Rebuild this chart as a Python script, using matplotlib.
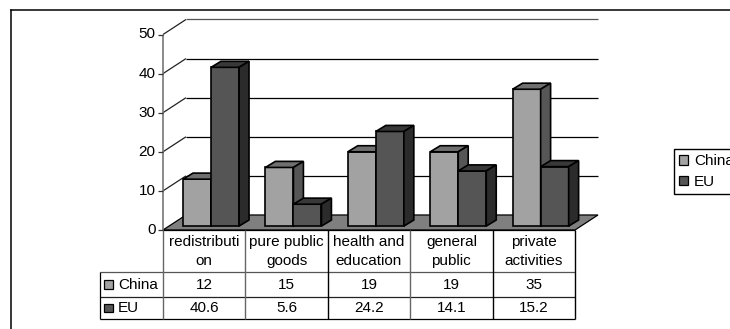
import matplotlib
matplotlib.use("Agg")
import matplotlib.pyplot as plt
from matplotlib.patches import Polygon, Patch, Rectangle
from matplotlib.lines import Line2D

categories = ["redistributi\non", "pure public\ngoods", "health and\neducation", "general\npublic", "private\nactivities"]
china = [12, 15, 19, 19, 35]
eu = [40.6, 5.6, 24.2, 14.1, 15.2]
china_labels = ["12", "15", "19", "19", "35"]
eu_labels = ["40.6", "5.6", "24.2", "14.1", "15.2"]
y_ticks = [0, 10, 20, 30, 40, 50]

W, H = 730, 329
plt.rcParams["font.family"] = ["Liberation Sans", "DejaVu Sans"]
plt.rcParams["font.size"] = 11

CHINA_COLS = ("#a2a2a2", "#6f6f6f", "#565656")
EU_COLS = ("#555555", "#383838", "#2b2b2b")

fig = plt.figure(figsize=(W / 100, H / 100), dpi=100)

# outer frame, open on the right and at the bottom
fig.add_artist(Line2D([11 / W, 11 / W], [0, 1 - 9.5 / H], color="black", lw=1.1))
fig.add_artist(Line2D([11 / W, 1], [1 - 9.5 / H, 1 - 9.5 / H], color="black", lw=1.1))

ax = fig.add_axes([163 / W, 1 - 230 / H, (575 - 163) / W, (230 - 34.5) / H])
ax.set_xlim(0, 5)
ax.set_ylim(0, 50)
ax.axis("off")

# depth of the fake 3d box and of the bars, in data units
depth_x = 0.279
depth_y = 3.84
bar_dx = 0.121
bar_dy = 1.55
bar_w = 0.34
bar_start = 0.243
bar_base = 1.0


def poly(points, face, edge="black", lw=1.2, z=3):
    ax.add_patch(Polygon(points, closed=True, facecolor=face, edgecolor=edge, lw=lw,
                         joinstyle="miter", clip_on=False, zorder=z))


def line(xs, ys, color="black", lw=0.9, z=1):
    ax.plot(xs, ys, color=color, lw=lw, clip_on=False, zorder=z, solid_capstyle="butt")


def bar3d(x, value, cols):
    top = bar_base + value
    poly([(x, bar_base), (x + bar_w, bar_base), (x + bar_w, top), (x, top)], cols[0])
    poly([(x, top), (x + bar_w, top), (x + bar_w + bar_dx, top + bar_dy), (x + bar_dx, top + bar_dy)], cols[1])
    poly([(x + bar_w, bar_base), (x + bar_w + bar_dx, bar_base + bar_dy),
          (x + bar_w + bar_dx, top + bar_dy), (x + bar_w, top)], cols[2])


# floor and back wall gridlines
poly([(0, 0), (5, 0), (5 + depth_x, depth_y), (depth_x, depth_y)], "#7f7f7f", lw=0.9, z=2)
for t in y_ticks[1:]:
    col = "#555555" if t == 50 else "black"
    line([0, depth_x], [t, t + depth_y], color="#222222")
    line([depth_x, 5 + depth_x], [t + depth_y, t + depth_y], color=col)

# value axis
line([0, 0], [0, 50], color="#777777", lw=1.2, z=4)
for t in y_ticks:
    line([-0.06, 0], [t, t], color="#333333", z=4)
    ax.text(-0.09, t, str(t), ha="right", va="center", clip_on=False)

for i in range(len(categories)):
    bar3d(i + bar_start, china[i], CHINA_COLS)
    bar3d(i + bar_start + bar_w, eu[i], EU_COLS)

# data table under the plot
row_y = [0, -10.74, -17.14, -22.76]
table_left = -0.767
line([0, 5], [row_y[0], row_y[0]], z=5)
line([table_left, 5], [row_y[1], row_y[1]], color="#555555", z=5)
line([table_left, 5], [row_y[2], row_y[2]], color="#222222", z=5)
line([table_left, 5], [row_y[3], row_y[3]], z=5)
line([table_left, table_left], [row_y[1], row_y[3]], z=5)
for i in range(6):
    col = "#666666" if i in (0, 1, 3) else "black"
    line([i, i], [0, row_y[3]], color=col, lw=1.0, z=5)

for i in range(len(categories)):
    ax.text(i + 0.5, (row_y[0] + row_y[1]) / 2 - 0.1, categories[i], ha="center", va="center",
            linespacing=1.4, clip_on=False)
    ax.text(i + 0.5, (row_y[1] + row_y[2]) / 2, china_labels[i], ha="center", va="center", clip_on=False)
    ax.text(i + 0.5, (row_y[2] + row_y[3]) / 2, eu_labels[i], ha="center", va="center", clip_on=False)

# row keys
key_w = 0.1
key_h = 2.1
for (name, face, low, high) in [("China", CHINA_COLS[0], row_y[2], row_y[1]), ("EU", EU_COLS[0], row_y[3], row_y[2])]:
    mid = (low + high) / 2
    ax.add_patch(Rectangle((table_left + 0.055, mid - key_h / 2), key_w, key_h, facecolor=face,
                           edgecolor="black", lw=0.9, clip_on=False, zorder=5))
    ax.text(table_left + 0.22, mid, name, ha="left", va="center", clip_on=False)

handles = [Patch(facecolor=CHINA_COLS[0], edgecolor="black", lw=0.9, label="China"),
           Patch(facecolor=EU_COLS[0], edgecolor="black", lw=0.9, label="EU")]
fig.legend(handles=handles, loc="upper left", bbox_to_anchor=(674 / W, 1 - 149 / H), borderaxespad=0,
           fancybox=False, framealpha=1, edgecolor="black", handlelength=0.55, handleheight=0.55,
           handletextpad=0.4, labelspacing=0.44, borderpad=0.35, fontsize=11)

fig.savefig("out.png", dpi=100)
